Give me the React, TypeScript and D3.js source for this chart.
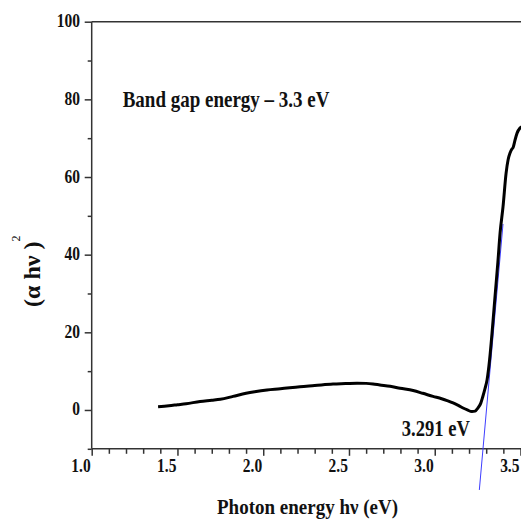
import React from "react";
import * as d3 from "d3";

// photon energy (eV) and (alpha h nu)^2
const energy = [1.387, 1.45, 1.5, 1.55, 1.632, 1.7, 1.75, 1.824, 1.9, 1.95, 2.022, 2.1, 2.214, 2.3, 2.407, 2.48, 2.547, 2.6, 2.64, 2.68, 2.74, 2.798, 2.874, 2.93, 2.99, 3.04, 3.072, 3.107, 3.14, 3.165, 3.19, 3.217, 3.235, 3.252, 3.268, 3.28, 3.293, 3.305, 3.32, 3.334, 3.352, 3.368, 3.381, 3.398, 3.416, 3.428, 3.439, 3.45, 3.457, 3.468, 3.48, 3.497, 3.51];
const absorb = [0.85, 1.1, 1.35, 1.6, 2.2, 2.5, 2.75, 3.5, 4.3, 4.7, 5.15, 5.45, 6.0, 6.3, 6.7, 6.8, 6.9, 6.85, 6.7, 6.45, 6.1, 5.6, 5.0, 4.3, 3.5, 2.9, 2.4, 1.8, 1.1, 0.5, 0.0, -0.4, -0.3, 0.5, 1.7, 3.4, 5.5, 7.7, 13, 19.8, 29.5, 38, 45.6, 52.3, 61, 64.5, 66.2, 67.2, 67.6, 69.5, 71.3, 72.6, 73];

// tangent (Tauc) line end points
const tangentX = [3.26, 3.398];
const tangentY = [-20.6, 47.9];

const xMajor = [1.0, 1.5, 2.0, 2.5, 3.0, 3.5];
const xMinor = d3.range(10, 36).map(d => d / 10).filter(d => !xMajor.includes(d));
const yMajor = [0, 20, 40, 60, 80, 100];
const yMinor = [-10, 10, 30, 50, 70, 90];

const App = () => {
  const ref = React.useRef<SVGSVGElement>(null);

  React.useEffect(() => {
    const width = 521;
    const svg = d3.select(ref.current);
    svg.selectAll("*").remove();

    const x = d3.scaleLinear().domain([1.0, 3.5]).range([91.7, 520.5]);
    const y = d3.scaleLinear().domain([-10, 100]).range([448.8, 21.7]);
    const axisColor = "#333";
    const font = "'Liberation Serif', 'Times New Roman', serif";

    // text stretched a bit vertically like the source image
    const label = (g, tx, ty, txt, size, anchor, k = 1.2) =>
      g.append("text")
        .attr("transform", `translate(${tx},${ty}) scale(1,${k})`)
        .attr("text-anchor", anchor)
        .attr("font-family", font)
        .attr("font-weight", "bold")
        .attr("font-size", size)
        .attr("fill", "#111")
        .text(txt);

    const styleAxis = g => {
      g.select(".domain").remove();
      g.selectAll(".tick line").attr("stroke", axisColor).attr("stroke-width", 1.5);
      g.selectAll(".tick text").remove();
    };

    // y axis ticks
    svg.append("g").attr("transform", `translate(${x(1.0)},0)`)
      .call(d3.axisLeft(y).tickValues(yMajor).tickSize(7)).call(styleAxis);
    svg.append("g").attr("transform", `translate(${x(1.0)},0)`)
      .call(d3.axisLeft(y).tickValues(yMinor).tickSize(4)).call(styleAxis);
    // x axis ticks
    svg.append("g").attr("transform", `translate(0,${y(-10)})`)
      .call(d3.axisBottom(x).tickValues(xMajor).tickSize(7)).call(styleAxis);
    svg.append("g").attr("transform", `translate(0,${y(-10)})`)
      .call(d3.axisBottom(x).tickValues(xMinor).tickSize(5)).call(styleAxis);

    // frame lines: left, bottom, top
    const frame = svg.append("g").attr("stroke", axisColor).attr("stroke-width", 1.5).attr("fill", "none");
    frame.append("line").attr("x1", x(1.0)).attr("x2", x(1.0)).attr("y1", y(100)).attr("y2", y(-10));
    frame.append("line").attr("x1", x(1.0)).attr("x2", width).attr("y1", y(-10)).attr("y2", y(-10));
    frame.append("line").attr("x1", x(1.0)).attr("x2", width).attr("y1", y(100)).attr("y2", y(100));

    // tick labels
    const tl = svg.append("g");
    yMajor.forEach(v => label(tl, 80, y(v) + 5.5, String(v), 15.5, "end", 1.27));
    xMajor.forEach(v => label(tl, x(v) - 1, 471.5, v.toFixed(1), 15.5, "end", 1.27));

    // tangent line
    svg.append("path")
      .attr("fill", "none")
      .attr("stroke", "#3d3dff")
      .attr("stroke-width", 1)
      .attr("d", d3.line()(tangentX.map((v, i) => [x(v), y(tangentY[i])])));

    // data curve
    svg.append("path")
      .attr("fill", "none")
      .attr("stroke", "#000")
      .attr("stroke-width", 3)
      .attr("stroke-linejoin", "round")
      .attr("d", d3.line<number>().x(d => x(d)).y((d, i) => y(absorb[i])).curve(d3.curveMonotoneX)(energy));

    // annotations
    label(svg, 122.7, 107.3, "Band gap energy \u2013 3.3 eV", 19, "start", 1.17);
    label(svg, 401.7, 436, "3.291 eV", 18.6, "start", 1.2);
    label(svg, 217, 514, "Photon energy h\u03bd (eV)", 19, "start", 1.15);

    // y title
    const yt = svg.append("text")
      .attr("transform", "translate(40,307) rotate(-90)")
      .attr("font-family", font)
      .attr("font-weight", "bold")
      .attr("font-size", 24)
      .attr("fill", "#111");
    yt.append("tspan").text("(\u03b1 h\u03bd )");
    yt.append("tspan").attr("dy", -20).attr("font-size", 12).attr("font-weight", "normal").text("2");
  }, []);

  return (
    <svg
      ref={ref}
      width={521}
      height={521}
      style={{ position: "absolute", left: 0, top: 0, background: "#fff" }}
    />
  );
};

export default App;
